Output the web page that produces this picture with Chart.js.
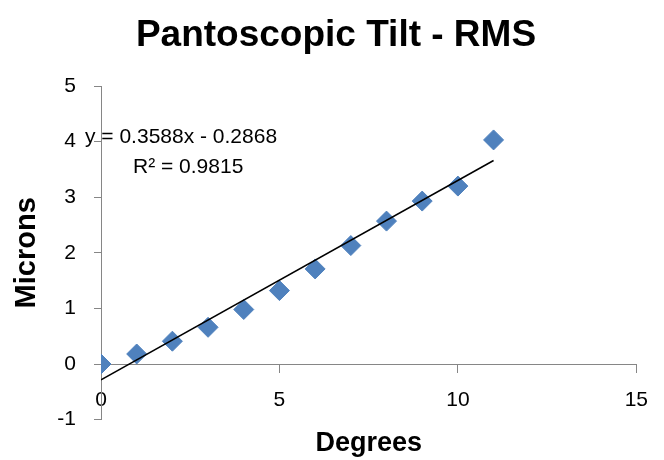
<!DOCTYPE html>
<html>
<head>
<meta charset="utf-8">
<script src="https://cdn.jsdelivr.net/npm/chart.js@4.4.1/dist/chart.umd.min.js"></script>
<style>
  body { margin: 0; background: #fff; }
</style>
</head>
<body>
<canvas id="tiltChart" width="664" height="460"></canvas>
<script>
// measured points
const degrees = [0, 1, 2, 3, 4, 5, 6, 7, 8, 9, 10, 11];
const microns = [0.00, 0.18, 0.41, 0.66, 0.98, 1.32, 1.71, 2.13, 2.57, 2.93, 3.20, 4.03];

// linear trendline ends (y = 0.3588x - 0.2868)
const trendX = [0, 11];
const trendY = [-0.2868, 3.66];

const xTicks = [0, 5, 10, 15];
const yTicks = [-1, 0, 1, 2, 3, 4, 5];

const chartTitle = 'Pantoscopic Tilt - RMS';
const equationLines = ['y = 0.3588x - 0.2868', 'R² = 0.9815'];

const fontFamily = '"Liberation Sans", Arial, sans-serif';
const axisGray = '#868686';

Chart.defaults.font.family = fontFamily;
Chart.defaults.color = '#000';

// title and trendline label
const textPlugin = {
    id: 'textPlugin',
    afterDraw(chart) {
        const c = chart.ctx;
        c.save();
        c.fillStyle = '#000';
        c.textBaseline = 'alphabetic';
        c.textAlign = 'center';
        c.font = 'bold 37px ' + fontFamily;
        c.fillText(chartTitle, 336, 46);
        c.textAlign = 'left';
        c.font = '21px ' + fontFamily;
        c.fillText(equationLines[0], 85, 143);
        c.fillText(equationLines[1], 133, 173);
        c.restore();
    }
};

let tiltCtx = document.getElementById('tiltChart').getContext('2d');

let tiltChart = new Chart(tiltCtx, {
    type: 'scatter',
    data: {
        datasets: [
            {
                label: 'Trend',
                data: trendX.map((x, i) => ({ x: x, y: trendY[i] })),
                showLine: true,
                borderColor: '#000',
                borderWidth: 1.5,
                pointRadius: 0,
                xAxisID: 'x',
                yAxisID: 'y',
                order: 0
            },
            {
                label: 'RMS',
                data: degrees.map((x, i) => ({ x: x, y: microns[i] })),
                pointStyle: 'rectRot',
                pointRadius: 10,
                backgroundColor: '#4F81BD',
                borderColor: '#4F81BD',
                borderWidth: 1,
                xAxisID: 'x',
                yAxisID: 'y',
                order: 1
            }
        ]
    },
    options: {
        responsive: false,
        animation: false,
        layout: { padding: { top: 86, right: 26, left: 0, bottom: 0 } },
        plugins: {
            legend: { display: false },
            tooltip: { enabled: false },
            title: { display: false }
        },
        scales: {
            x: {
                type: 'linear',
                position: { y: 0 },
                min: 0,
                max: 15,
                afterBuildTicks: s => { s.ticks = xTicks.map(v => ({ value: v })); },
                afterFit: s => { s.height = 0; },
                grid: { drawOnChartArea: false, tickLength: 8, color: axisGray },
                border: { color: axisGray },
                ticks: { padding: 16, color: '#000', font: { size: 21 } }
            },
            x2: {
                type: 'linear',
                position: 'bottom',
                min: 0,
                max: 15,
                grid: { display: false, drawTicks: false },
                border: { display: false },
                ticks: { display: false },
                title: {
                    display: true,
                    text: 'Degrees',
                    color: '#000',
                    font: { size: 27, weight: 'bold' },
                    padding: { top: 8, bottom: 0 }
                }
            },
            y: {
                type: 'linear',
                position: 'left',
                min: -1,
                max: 5,
                afterBuildTicks: s => { s.ticks = yTicks.map(v => ({ value: v })); },
                afterFit: s => { s.width = 101; },
                grid: { drawOnChartArea: false, tickLength: 7, color: axisGray },
                border: { color: axisGray },
                ticks: { padding: 18, color: '#000', font: { size: 21 } },
                title: {
                    display: true,
                    text: 'Microns',
                    color: '#000',
                    font: { size: 29, weight: 'bold' },
                    padding: { top: 10, bottom: 0 }
                }
            }
        }
    },
    plugins: [textPlugin]
});
</script>
</body>
</html>
